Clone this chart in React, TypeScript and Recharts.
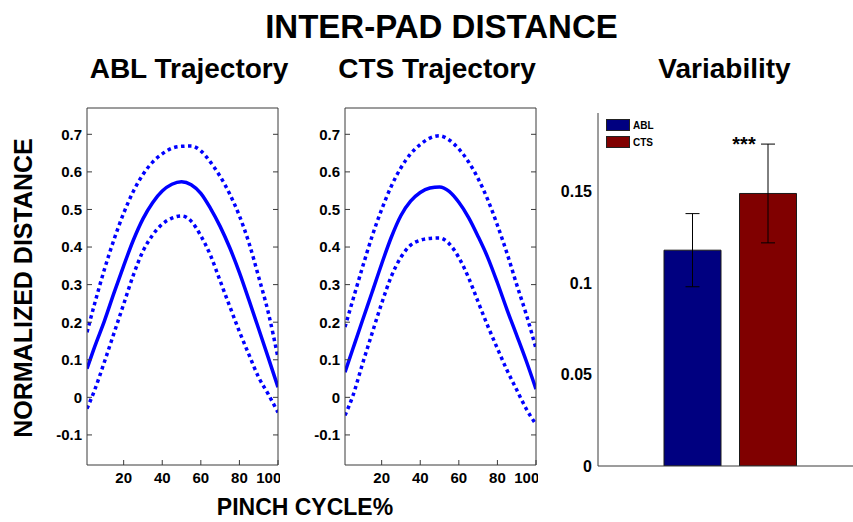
import { LineChart, Line, XAxis, YAxis, BarChart, Bar, Cell, ErrorBar, Legend } from 'recharts';

// pinch cycle sample positions (%)
const pinchCycle = [1, 5, 10, 15, 20, 25, 30, 35, 40, 45, 50, 55, 60, 65, 70, 75, 80, 85, 90, 95, 100];

const ablMean = [0.076, 0.135, 0.203, 0.278, 0.35, 0.418, 0.475, 0.518, 0.549, 0.567, 0.574, 0.566, 0.543, 0.503, 0.455, 0.398, 0.332, 0.258, 0.182, 0.105, 0.027];
const ablUpper = [0.173, 0.25, 0.34, 0.42, 0.49, 0.548, 0.593, 0.626, 0.648, 0.663, 0.668, 0.669, 0.656, 0.626, 0.588, 0.541, 0.483, 0.41, 0.32, 0.225, 0.105];
const ablLower = [-0.03, 0.02, 0.094, 0.171, 0.248, 0.325, 0.389, 0.432, 0.461, 0.477, 0.483, 0.469, 0.43, 0.378, 0.31, 0.242, 0.175, 0.113, 0.053, 0.008, -0.04];

const ctsMean = [0.067, 0.128, 0.204, 0.279, 0.355, 0.426, 0.484, 0.522, 0.545, 0.557, 0.56, 0.548, 0.519, 0.479, 0.428, 0.372, 0.305, 0.233, 0.165, 0.096, 0.022];
const ctsUpper = [0.187, 0.258, 0.345, 0.428, 0.5, 0.562, 0.611, 0.648, 0.673, 0.69, 0.696, 0.685, 0.661, 0.627, 0.582, 0.526, 0.458, 0.383, 0.3, 0.22, 0.13];
const ctsLower = [-0.048, 0.003, 0.088, 0.17, 0.25, 0.322, 0.373, 0.405, 0.418, 0.423, 0.424, 0.409, 0.372, 0.319, 0.254, 0.19, 0.13, 0.072, 0.02, -0.031, -0.072];

const groups = ['ABL', 'CTS'];
const variability = [0.118, 0.149];
const variabilityErr = [0.02, 0.027];
const groupColors = ['#000080', '#800000'];

const xTicks = [20, 40, 60, 80, 100];
const yTicks = [-0.1, 0, 0.1, 0.2, 0.3, 0.4, 0.5, 0.6, 0.7];
const barTicks = [0, 0.05, 0.1, 0.15];

const FONT = '"Liberation Sans", Arial, sans-serif';
const FRAME = '#3a3a3a';
const tickStyle = { fontSize: 15, fontWeight: 700, fill: '#000', fontFamily: FONT };

function TrajectoryPanel({ left, mean, upper, lower }: { left: number; mean: number[]; upper: number[]; lower: number[] }) {
  const data = pinchCycle.map((x, i) => ({ x, mean: mean[i], upper: upper[i], lower: lower[i] }));
  return (
    <div style={{ position: 'absolute', left, top: 90 }}>
      <LineChart width={280} height={405} data={data} margin={{ top: 17, right: 1, bottom: 0, left: 37 }}>
        <XAxis
          dataKey="x"
          type="number"
          domain={[1, 100]}
          ticks={xTicks}
          allowDataOverflow
          height={30}
          tickSize={-5}
          tickMargin={12}
          tick={tickStyle}
          stroke={FRAME}
        />
        <XAxis
          xAxisId="top"
          orientation="top"
          type="number"
          domain={[1, 100]}
          ticks={xTicks}
          allowDataOverflow
          height={1}
          tickSize={-5}
          tickFormatter={() => ''}
          stroke={FRAME}
        />
        <YAxis
          type="number"
          domain={[-0.18, 0.77]}
          ticks={yTicks}
          allowDataOverflow
          width={50}
          tickSize={-5}
          tickMargin={10}
          tick={tickStyle}
          stroke={FRAME}
        />
        <YAxis
          yAxisId="right"
          orientation="right"
          type="number"
          domain={[-0.18, 0.77]}
          ticks={yTicks}
          allowDataOverflow
          width={1}
          tickSize={-5}
          tickFormatter={() => ''}
          stroke={FRAME}
        />
        <Line type="monotone" dataKey="upper" stroke="#0000ff" strokeWidth={3.5} strokeDasharray="3.5 3.5" dot={false} isAnimationActive={false} />
        <Line type="monotone" dataKey="mean" stroke="#0000ff" strokeWidth={3.5} dot={false} isAnimationActive={false} />
        <Line type="monotone" dataKey="lower" stroke="#0000ff" strokeWidth={3.5} strokeDasharray="3.5 3.5" dot={false} isAnimationActive={false} />
      </LineChart>
    </div>
  );
}

function GroupLegend() {
  return (
    <div style={{ fontFamily: FONT }}>
      {groups.map((g, i) => (
        <div key={g} style={{ display: 'flex', alignItems: 'center', height: 12, marginBottom: 5 }}>
          <div style={{ width: 22, height: 10, background: groupColors[i], border: '1px solid #222' }} />
          <span style={{ fontSize: 10, fontWeight: 700, marginLeft: 3, color: '#000' }}>{g}</span>
        </div>
      ))}
    </div>
  );
}

function VariabilityPanel() {
  const data = groups.map((g, i) => ({ name: g, value: variability[i], err: variabilityErr[i] }));
  return (
    <div style={{ position: 'absolute', left: 540, top: 90 }}>
      <BarChart width={313} height={406} data={data} margin={{ top: 23, right: 0, bottom: 0, left: 0 }}>
        <XAxis dataKey="name" height={30} tick={false} tickLine={false} padding={{ left: 57, right: 47 }} stroke={FRAME} />
        <YAxis
          type="number"
          domain={[0, 0.193]}
          ticks={barTicks}
          allowDataOverflow
          width={58}
          tickLine={false}
          tickSize={0}
          tickMargin={6}
          tickFormatter={(v: number) => String(v)}
          tick={{ ...tickStyle, fontSize: 16 }}
          stroke={FRAME}
        />
        <Legend
          layout="vertical"
          align="center"
          verticalAlign="middle"
          content={() => <GroupLegend />}
          wrapperStyle={{ left: 66, top: 29, width: 60, height: 34 }}
        />
        <Bar dataKey="value" barSize={57} stroke="#1a1a1a" strokeWidth={1} isAnimationActive={false}>
          {data.map((d, i) => (
            <Cell key={d.name} fill={groupColors[i]} />
          ))}
          <ErrorBar dataKey="err" width={7} stroke="#000" strokeWidth={1} />
        </Bar>
      </BarChart>
    </div>
  );
}

export default function App() {
  return (
    <div style={{ position: 'absolute', left: 0, top: 0, width: 853, height: 522, overflow: 'hidden', background: '#fff', fontFamily: FONT }}>
      <TrajectoryPanel left={0} mean={ablMean} upper={ablUpper} lower={ablLower} />
      <TrajectoryPanel left={258} mean={ctsMean} upper={ctsUpper} lower={ctsLower} />
      <VariabilityPanel />
      <svg width={853} height={522} style={{ position: 'absolute', left: 0, top: 0, pointerEvents: 'none' }}>
        <g fontFamily={FONT} fontWeight={700} fill="#000" textAnchor="middle">
          <text x={441.5} y={38} fontSize={33}>INTER-PAD DISTANCE</text>
          <text x={189} y={78} fontSize={28}>ABL Trajectory</text>
          <text x={437} y={78} fontSize={28}>CTS Trajectory</text>
          <text x={724.5} y={78} fontSize={28}>Variability</text>
          <text x={31.5} y={288} fontSize={25} transform="rotate(-90 31.5 288)">NORMALIZED DISTANCE</text>
          <text x={305} y={515} fontSize={23}>PINCH CYCLE%</text>
          <text x={744} y={151} fontSize={20}>***</text>
        </g>
      </svg>
    </div>
  );
}
